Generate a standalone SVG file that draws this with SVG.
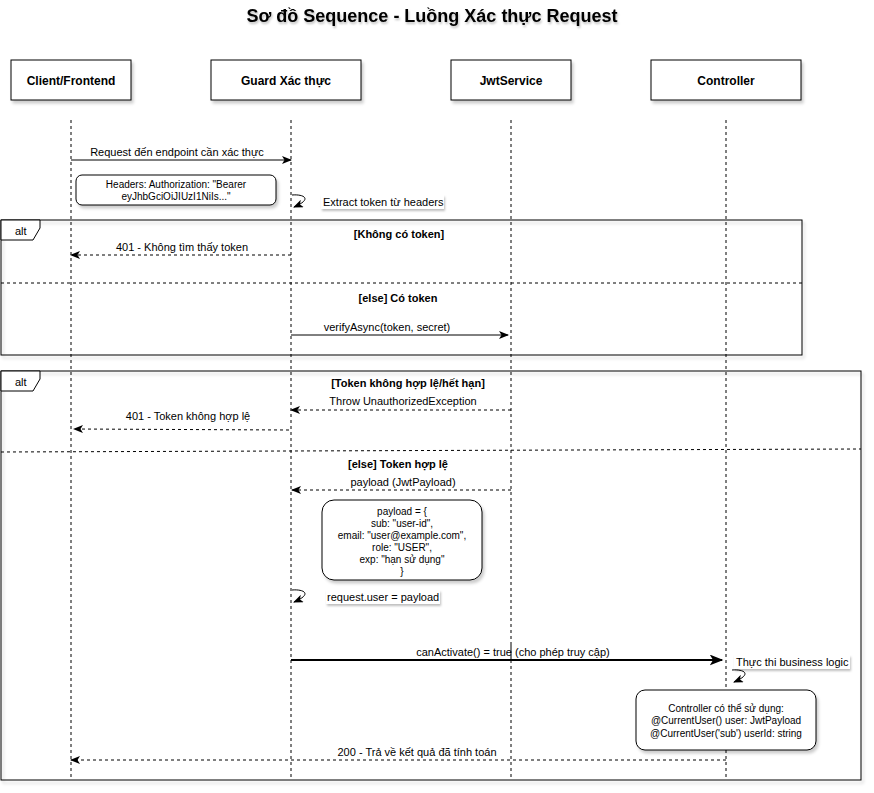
<svg xmlns="http://www.w3.org/2000/svg" width="874" height="793" viewBox="0 0 874 793">
<style>
text{font-family:"Liberation Sans",Arial,sans-serif;fill:#000}
.title{font-size:18px;font-weight:bold}
.hdr{font-size:12px;font-weight:bold}
.msg{font-size:11px}
.grd{font-size:11px;font-weight:bold}
.note{font-size:10px}
.box{fill:#fff;stroke:#000;stroke-width:1}
.life{stroke:#000;stroke-width:1;stroke-dasharray:3 3;fill:none}
.frame{fill:none;stroke:#000;stroke-width:1}
.div{stroke:#000;stroke-width:1;stroke-dasharray:3 3;fill:none}
.sol{stroke:#000;stroke-width:1;fill:none}
.dsh{stroke:#000;stroke-width:1;stroke-dasharray:3 3;fill:none}
.thick{stroke:#000;stroke-width:2;fill:none}
.lbg{fill:#fff}
</style>
<defs>
<filter id="sh" x="-10%" y="-10%" width="130%" height="140%">
<feDropShadow dx="2" dy="3" stdDeviation="1.5" flood-color="#000" flood-opacity="0.2"/>
</filter>
<filter id="tsh" x="-10%" y="-30%" width="130%" height="180%">
<feDropShadow dx="1" dy="2" stdDeviation="1" flood-color="#000" flood-opacity="0.25"/>
</filter>
<marker id="ar" viewBox="0 0 10 8" refX="9" refY="4" markerWidth="10" markerHeight="8" markerUnits="userSpaceOnUse" orient="auto">
<path d="M0,0 L10,4 L0,8 L2.5,4 z" fill="#000"/>
</marker>
<marker id="arT" viewBox="0 0 10 8" refX="9" refY="4" markerWidth="14" markerHeight="11" markerUnits="userSpaceOnUse" orient="auto">
<path d="M0,0 L10,4 L0,8 L2.5,4 z" fill="#000"/>
</marker>
</defs>
<rect width="874" height="793" fill="#fff"/>
<text class="title" x="432" y="22" text-anchor="middle" filter="url(#tsh)">Sơ đồ Sequence - Luồng Xác thực Request</text>

<g id="frames">
<rect class="frame" x="1" y="220" width="801" height="135" filter="url(#sh)"/>
<path d="M1,220 L40,220 L40,228 L33,240 L1,240 z" fill="#fff" stroke="#000" stroke-width="1"/>
<text class="msg" x="15" y="235">alt</text>
<line class="div" x1="1" y1="283" x2="802" y2="283"/>
<rect class="frame" x="1" y="371" width="860" height="409" filter="url(#sh)"/>
<path d="M1,371 L40,371 L40,379 L33,391 L1,391 z" fill="#fff" stroke="#000" stroke-width="1"/>
<text class="msg" x="15" y="386">alt</text>
<line class="div" x1="1" y1="452" x2="861" y2="449"/>
<text class="grd" x="399" y="238" text-anchor="middle">[Không có token]</text>
<text class="grd" x="398" y="302" text-anchor="middle">[else] Có token</text>
<text class="grd" x="408" y="387" text-anchor="middle">[Token không hợp lệ/hết hạn]</text>
<text class="grd" x="398" y="468" text-anchor="middle">[else] Token hợp lệ</text>
</g>

<g id="client">
<rect class="box" x="11" y="60" width="120" height="40" filter="url(#sh)"/>
<text class="hdr" x="71" y="85" text-anchor="middle">Client/Frontend</text>
<line class="life" x1="71" y1="120" x2="71" y2="780"/>
</g>
<g id="guard">
<rect class="box" x="211" y="60" width="150" height="40" filter="url(#sh)"/>
<text class="hdr" x="286" y="85" text-anchor="middle">Guard Xác thực</text>
<line class="life" x1="291" y1="120" x2="291" y2="780"/>
</g>
<g id="jwtservice">
<rect class="box" x="451" y="60" width="120" height="40" filter="url(#sh)"/>
<text class="hdr" x="511" y="85" text-anchor="middle">JwtService</text>
<line class="life" x1="511" y1="120" x2="511" y2="780"/>
</g>
<g id="controller">
<rect class="box" x="651" y="60" width="150" height="40" filter="url(#sh)"/>
<text class="hdr" x="726" y="85" text-anchor="middle">Controller</text>
<line class="life" x1="726" y1="120" x2="726" y2="780"/>
</g>

<g id="note-headers">
<rect class="box" x="76" y="175" width="200" height="30" rx="6" filter="url(#sh)"/>
<text class="note" x="176" y="188" text-anchor="middle">Headers: Authorization: "Bearer</text>
<text class="note" x="176" y="200" text-anchor="middle">eyJhbGciOiJIUzI1NiIs..."</text>
</g>
<g id="note-payload">
<rect class="box" x="322" y="500" width="160" height="80" rx="12" filter="url(#sh)"/>
<text class="note" x="402" y="515" text-anchor="middle">payload = {</text>
<text class="note" x="402" y="527" text-anchor="middle">sub: "user-id",</text>
<text class="note" x="402" y="539" text-anchor="middle">email: "user@example.com",</text>
<text class="note" x="402" y="551" text-anchor="middle">role: "USER",</text>
<text class="note" x="402" y="563" text-anchor="middle">exp: "hạn sử dụng"</text>
<text class="note" x="402" y="575" text-anchor="middle">}</text>
</g>
<g id="note-controller">
<rect class="box" x="636" y="690" width="180" height="60" rx="9" filter="url(#sh)"/>
<text class="note" x="726" y="712" text-anchor="middle">Controller có thể sử dụng:</text>
<text class="note" x="726" y="724" text-anchor="middle">@CurrentUser() user: JwtPayload</text>
<text class="note" x="726" y="737" text-anchor="middle">@CurrentUser('sub') userId: string</text>
</g>

<g id="connectors">
<line class="sol" x1="71" y1="160" x2="291" y2="160" marker-end="url(#ar)"/>
<text class="msg" x="177" y="156" text-anchor="middle">Request đến endpoint cần xác thực</text>

<path class="sol" d="M292,195 C304,194 313,199 294,207" marker-end="url(#ar)"/>
<rect class="lbg" x="321" y="195" width="123" height="14" filter="url(#tsh)"/>
<text class="msg" x="323" y="206">Extract token từ headers</text>

<line class="dsh" x1="291" y1="255" x2="71" y2="255" marker-end="url(#ar)"/>
<text class="msg" x="182" y="251" text-anchor="middle">401 - Không tìm thấy token</text>

<line class="sol" x1="291" y1="335" x2="508" y2="335" marker-end="url(#ar)"/>
<text class="msg" x="387" y="331" text-anchor="middle">verifyAsync(token, secret)</text>

<line class="dsh" x1="511" y1="410" x2="291" y2="410" marker-end="url(#ar)"/>
<text class="msg" x="403" y="405" text-anchor="middle">Throw UnauthorizedException</text>

<line class="dsh" x1="289" y1="430" x2="74" y2="429" marker-end="url(#ar)"/>
<text class="msg" x="188" y="420" text-anchor="middle">401 - Token không hợp lệ</text>

<line class="dsh" x1="511" y1="490" x2="292" y2="490" marker-end="url(#ar)"/>
<text class="msg" x="403" y="486" text-anchor="middle">payload (JwtPayload)</text>

<path class="sol" d="M292,590 C304,589 313,594 294,602" marker-end="url(#ar)"/>
<rect class="lbg" x="326" y="590" width="114" height="14" filter="url(#tsh)"/>
<text class="msg" x="327" y="601">request.user = payload</text>

<line class="thick" x1="291" y1="660" x2="722" y2="660" marker-end="url(#arT)"/>
<text class="msg" x="513" y="656" text-anchor="middle">canActivate() = true (cho phép truy cập)</text>
<line class="life" x1="511" y1="645" x2="511" y2="660"/>

<path class="sol" d="M732,670 C744,669 753,674 734,682" marker-end="url(#ar)"/>
<rect class="lbg" x="734" y="655" width="116" height="14" filter="url(#tsh)"/>
<text class="msg" x="736" y="666">Thực thi business logic</text>

<line class="dsh" x1="726" y1="760" x2="71" y2="760" marker-end="url(#ar)"/>
<text class="msg" x="417" y="756" text-anchor="middle">200 - Trả về kết quả đã tính toán</text>
</g>
</svg>
